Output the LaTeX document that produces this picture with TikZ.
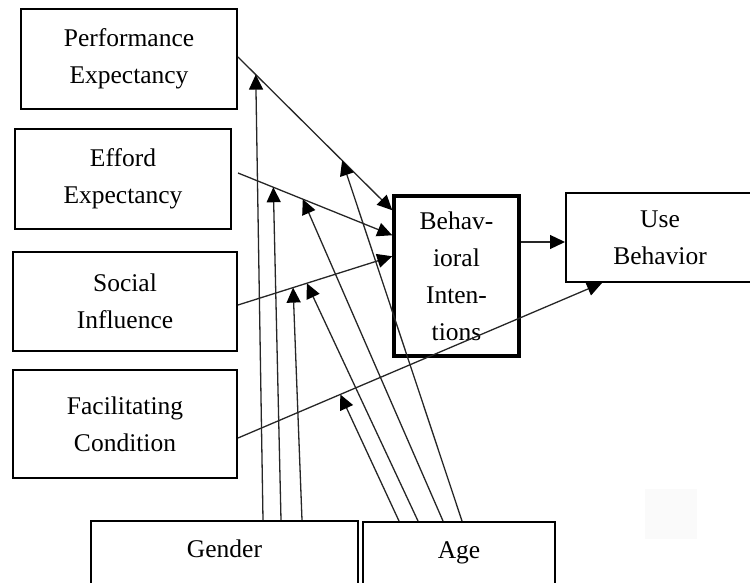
\documentclass[tikz,border=0pt]{standalone}
\usepackage{fontspec}
\setmainfont{Liberation Serif}
\usetikzlibrary{arrows.meta,calc}
\begin{document}
\begin{tikzpicture}[x=1pt,y=-1pt,
  box/.style={draw, line width=2pt, align=center, inner sep=0pt,
    font=\fontsize{25.5}{37}\selectfont},
  lowbox/.style={box, anchor=north west, text height=30pt, text depth=70pt, inner sep=6pt},
  conn/.style={line width=1.3pt, draw=black!85, -{Triangle[length=15pt,width=14pt,color=black]}},
]
\useasboundingbox (0,0) rectangle (750,583);
\clip (0,0) rectangle (750,583);
\fill[black!2] (645,489) rectangle (697,539);
% boxes
\node[box, minimum width=216pt, minimum height=100pt] (pe) at (129,59) {Performance\\Expectancy};
\node[box, minimum width=216pt, minimum height=100pt] (ee) at (123,179) {Efford\\Expectancy};
\node[box, minimum width=224pt, minimum height=99pt] (si) at (125,301.5) {Social\\Influence};
\node[box, minimum width=224pt, minimum height=108pt] (fc) at (125,424) {Facilitating\\Condition};
\node[box, line width=3.5pt, minimum width=125pt, minimum height=160pt] (bi) at (456.5,276) {Behav-\\ioral\\Inten-\\tions};
\node[box, minimum width=188pt, minimum height=89pt] (ub) at (660,237.5) {Use\\Behavior};
\node[lowbox, minimum width=267pt] (gender) at (90,520) {Gender};
\node[lowbox, minimum width=192pt] (age) at (362,521) {Age};
% main connectors
\draw[conn] ($(pe.east)+(0,-2)$) -- coordinate[pos=0.115] (pe1) coordinate[pos=0.675] (pe2) ($(bi.north west)+(0,16)$);
\draw[conn] ($(ee.east)+(6,-6)$) -- coordinate[pos=0.229] (ee1) coordinate[pos=0.42] (ee2) ($(bi.north west)+(0,41)$);
\draw[conn] ($(si.east)+(0,3.5)$) -- coordinate[pos=0.357] (si1) coordinate[pos=0.446] (si2) ($(bi.north west)+(0,62)$);
\draw[conn] ($(fc.east)+(0,14)$) -- coordinate[pos=0.281] (fc1) ($(ub.south west)+(37,0)$);
\draw[conn] ($(bi.east)+(0,-34)$) -- ($(ub.west)+(0,4.5)$);
% moderators
\draw[conn] ($(gender.north west)+(173,0)$) -- (pe1);
\draw[conn] ($(gender.north west)+(191,0)$) -- (ee1);
\draw[conn] ($(gender.north west)+(212,0)$) -- (si1);
\draw[conn] ($(age.north west)+(37,0)$) -- (fc1);
\draw[conn] ($(age.north west)+(56,0)$) -- (si2);
\draw[conn] ($(age.north west)+(81,0)$) -- (ee2);
\draw[conn] ($(age.north west)+(100,0)$) -- (pe2);
\end{tikzpicture}
\end{document}
